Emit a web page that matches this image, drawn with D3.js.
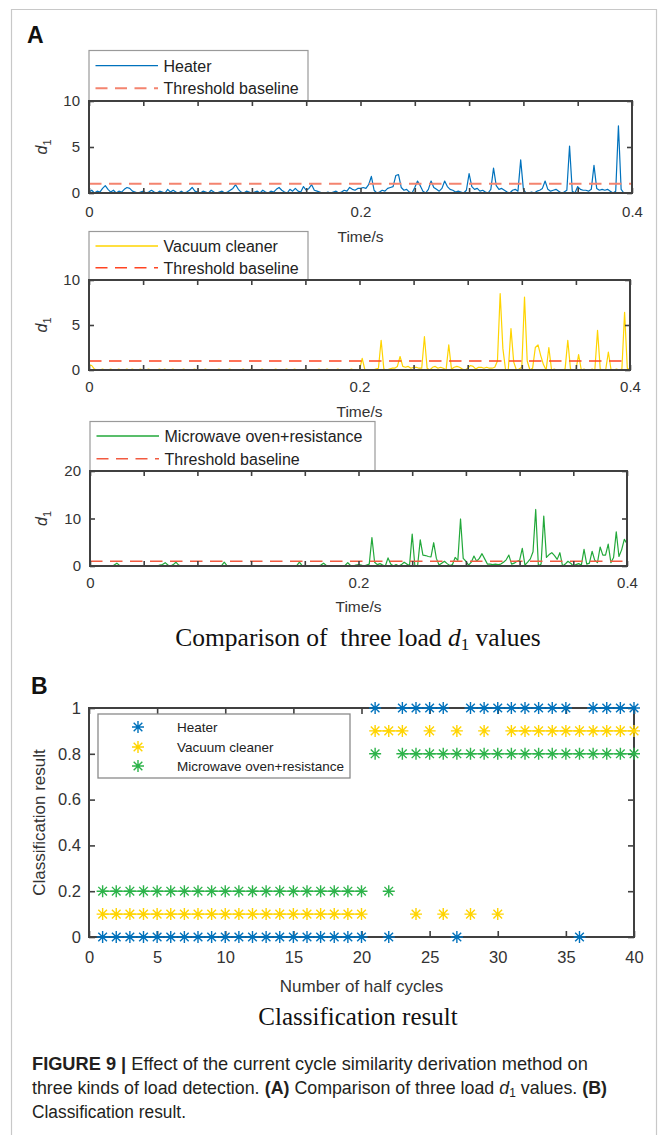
<!DOCTYPE html>
<html><head><meta charset="utf-8">
<script src="https://cdn.jsdelivr.net/npm/d3@7"></script>
<style>body{margin:0;background:#fff}svg{display:block}</style>
</head><body><svg id="c" width="664" height="1135"></svg>
<script>
// ---------------- DATA ----------------
const timeStep = 0.002; // s between samples (201 samples, 0 .. 0.4 s)
const heater = [
0.1,0.3,0.0,0.2,0.1,0.5,0.8,0.4,0.1,0.3,
0.0,0.2,0.1,0.4,0.6,0.5,0.2,0.1,0.0,0.1,
0.2,0.0,0.1,0.3,0.1,0.0,0.2,0.1,0.0,0.4,
0.1,0.3,0.1,0.0,0.2,0.0,0.1,0.3,0.6,0.2,
0.1,0.0,0.2,0.1,0.0,0.3,0.1,0.0,0.1,0.2,
0.0,0.1,0.3,0.5,0.9,0.4,0.1,0.0,0.2,0.1,
0.0,0.1,0.2,0.0,0.3,0.1,0.0,0.2,0.1,0.4,
0.6,0.3,0.1,0.0,0.4,0.2,0.5,0.2,0.1,0.7,
0.3,0.5,0.9,0.3,0.2,0.1,0.0,0.0,0.1,0.0,
0.1,0.2,0.0,0.1,0.3,0.2,0.6,0.4,0.3,0.5,
0.5,0.6,0.5,0.9,1.8,0.3,0.0,0.1,0.3,0.2,
0.5,0.6,0.7,1.9,2.0,0.6,0.3,0.4,0.1,0.0,
0.6,1.3,0.8,0.2,0.0,0.4,1.3,0.6,0.4,0.2,
0.5,1.3,0.7,0.4,0.3,0.1,0.2,0.1,0.0,0.3,
2.1,0.7,0.4,0.5,0.2,0.3,0.1,0.0,0.4,2.7,
0.8,0.4,0.5,0.3,0.1,0.0,0.3,0.4,0.2,3.6,
0.4,0.0,0.0,0.1,0.0,0.2,0.3,0.5,1.3,0.4,
0.2,0.3,0.4,0.2,0.0,0.1,0.3,5.1,0.2,0.0,
0.7,0.4,0.3,0.3,0.2,0.4,3.0,0.5,0.3,0.4,
0.3,0.4,0.2,0.0,0.2,7.3,0.4,0.0,0.0,0.0,
0.0];
const vacuum = [
0.6,0.5,0.1,0.0,0.0,0.1,0.0,0.0,0.1,0.0,
0.0,0.1,0.0,0.0,0.1,0.0,0.1,0.0,0.0,0.1,
0.0,0.0,0.1,0.0,0.0,0.0,0.1,0.0,0.1,0.0,
0.0,0.1,0.0,0.0,0.0,0.1,0.0,0.0,0.0,0.1,
0.0,0.0,0.0,0.1,0.0,0.0,0.0,0.0,0.1,0.0,
0.0,0.0,0.1,0.0,0.0,0.0,0.0,0.1,0.0,0.0,
0.1,0.0,0.0,0.0,0.1,0.0,0.0,0.0,0.0,0.1,
0.0,0.0,0.0,0.1,0.0,0.0,0.1,0.0,0.0,0.0,
0.1,0.0,0.0,0.0,0.0,0.1,0.0,0.0,0.1,0.0,
0.0,0.0,0.1,0.0,0.0,0.0,0.0,0.1,0.0,0.0,
0.0,1.3,0.0,0.0,0.0,0.0,0.1,0.2,3.3,0.1,
0.0,0.1,0.2,0.2,0.4,1.5,0.4,0.3,0.4,0.2,
0.3,0.3,0.2,0.2,3.7,0.2,0.0,0.3,0.4,0.2,
0.3,0.2,0.0,2.8,0.1,0.3,0.4,0.3,0.1,0.0,
0.2,0.5,0.4,0.1,0.3,0.3,0.2,0.3,0.2,0.2,
0.3,1.0,8.5,2.4,0.0,0.0,4.6,0.9,0.0,0.1,
0.3,8.1,1.0,0.0,0.2,2.5,2.8,1.6,0.6,0.0,
2.5,0.0,0.1,0.0,0.0,0.0,0.1,3.3,0.1,0.0,
0.0,1.7,0.0,0.1,0.0,0.0,0.1,0.0,4.4,0.1,
0.0,0.0,2.0,0.0,0.0,0.1,0.0,0.1,6.4,0.2,
0.0];
const microwave = [
0.1,0.0,0.0,0.1,0.0,0.0,0.1,0.0,0.0,0.2,
0.6,0.1,0.0,0.0,0.1,0.0,0.0,0.1,0.0,0.0,
0.1,0.0,0.0,0.1,0.0,0.0,0.2,0.3,0.7,0.2,
0.0,0.3,0.8,0.2,0.0,0.1,0.0,0.0,0.1,0.0,
0.0,0.1,0.0,0.0,0.0,0.1,0.0,0.0,0.0,0.1,
0.8,0.1,0.0,0.0,0.1,0.0,0.0,0.0,0.1,0.0,
0.0,0.0,0.1,0.0,0.0,0.0,0.1,0.0,0.0,0.0,
0.1,0.0,0.0,0.0,0.1,0.0,0.0,0.1,0.8,0.1,
0.0,0.0,0.1,0.0,0.0,0.0,0.2,0.6,0.1,0.0,
0.0,0.1,0.0,0.0,0.0,0.1,0.7,0.1,0.0,0.2,
0.3,0.2,0.0,0.2,0.4,6.0,0.8,0.3,0.5,0.2,
0.0,1.7,0.4,0.0,0.3,0.0,0.3,0.8,0.4,0.1,
6.7,0.0,0.0,5.5,2.3,2.2,2.0,1.9,4.9,1.6,
0.2,0.6,1.0,0.5,0.1,0.3,1.8,1.2,9.9,1.6,
1.0,0.2,0.8,2.1,1.0,1.6,2.6,1.5,0.4,0.4,
0.3,0.4,0.3,0.4,0.8,1.3,2.3,0.4,0.6,1.0,
1.2,3.7,0.2,0.8,1.5,3.0,11.9,0.0,0.4,10.5,
1.8,2.4,2.8,2.2,1.4,2.8,0.0,0.4,1.0,0.6,
0.0,0.3,0.5,0.2,3.5,0.4,0.6,3.1,1.2,0.7,
4.0,2.3,2.3,4.6,0.7,1.8,7.2,2.0,3.4,5.6,
4.7];
const thresholdTimes = [0, 0.4];
const thresholdValues = [1, 1];
const timeTicks = [0,0.04,0.08,0.12,0.16,0.2,0.24,0.28,0.32,0.36,0.4];
const timeTickLabels = {"0":"0","0.2":"0.2","0.4":"0.4"};
const d1TicksSmall = [0,5,10];
const d1TicksLarge = [0,10,20];
const seriesNamesA = ["Heater","Vacuum cleaner","Microwave oven+resistance"];

const halfCycles = [1,2,3,4,5,6,7,8,9,10,11,12,13,14,15,16,17,18,19,20,
                    21,22,23,24,25,26,27,28,29,30,31,32,33,34,35,36,37,38,39,40];
const heaterClass = [0,0,0,0,0,0,0,0,0,0,0,0,0,0,0,0,0,0,0,0,
                     1,0,1,1,1,1,0,1,1,1,1,1,1,1,1,0,1,1,1,1];
const vacuumClass = [0.1,0.1,0.1,0.1,0.1,0.1,0.1,0.1,0.1,0.1,0.1,0.1,0.1,0.1,0.1,0.1,0.1,0.1,0.1,0.1,
                     0.9,0.9,0.9,0.1,0.9,0.1,0.9,0.1,0.9,0.1,0.9,0.9,0.9,0.9,0.9,0.9,0.9,0.9,0.9,0.9];
const microwaveClass = [0.2,0.2,0.2,0.2,0.2,0.2,0.2,0.2,0.2,0.2,0.2,0.2,0.2,0.2,0.2,0.2,0.2,0.2,0.2,0.2,
                        0.8,0.2,0.8,0.8,0.8,0.8,0.8,0.8,0.8,0.8,0.8,0.8,0.8,0.8,0.8,0.8,0.8,0.8,0.8,0.8];
const cycleTicks = [0,5,10,15,20,25,30,35,40];
const classTicks = [0,0.2,0.4,0.6,0.8,1];
const seriesNamesB = ["Heater","Vacuum cleaner","Microwave oven+resistance"];

// ---------------- DRAWING ----------------
const svg = d3.select("#c");
const SANS = "'Liberation Sans', Arial, Helvetica, sans-serif";
const SERIF = "'Liberation Serif', 'Times New Roman', serif";
const AX = "#404040";
const TXT = "#333";

// figure frame
svg.append("path").attr("d","M11.5,1135 V9.5 H656.5 V1135")
  .attr("fill","none").attr("stroke","#c8c8c8").attr("stroke-width",1.2);

svg.append("text").attr("x",27).attr("y",43).attr("font-family",SANS)
  .attr("font-weight","bold").attr("font-size",23).attr("fill","#111").text("A");
svg.append("text").attr("x",31).attr("y",694).attr("font-family",SANS)
  .attr("font-weight","bold").attr("font-size",23).attr("fill","#111").text("B");

const panels = [
  {vals: heater, color:"#0072BD", thr:"#f4846f", thrW:2, x0:89, x1:632, yT:101, yB:193, yMax:10, ticks:d1TicksSmall,
   legTop:50.5, legW:219, legY:[65.7,88.3], xlabPad:13, timeY:241.5, name:seriesNamesA[0]},
  {vals: vacuum, color:"#FFD400", thr:"#ff4422", thrW:1.5, x0:89, x1:630, yT:280, yB:370, yMax:10, ticks:d1TicksSmall,
   legTop:231.5, legW:219, legY:[246,267.7], xlabPad:11, timeY:416.5, name:seriesNamesA[1]},
  {vals: microwave, color:"#22A83A", thr:"#f25a40", thrW:1.5, x0:90, x1:627, yT:471, yB:566, yMax:20, ticks:d1TicksLarge,
   legTop:421.5, legW:285, legY:[436,458.7], xlabPad:11, timeY:612, name:seriesNamesA[2]}
];

panels.forEach(p => {
  const x = d3.scaleLinear().domain([0,0.4]).range([p.x0,p.x1]);
  const y = d3.scaleLinear().domain([0,p.yMax]).range([p.yB,p.yT]);
  const g = svg.append("g");

  // legend box (behind axes)
  g.append("rect").attr("x",p.x0).attr("y",p.legTop).attr("width",p.legW).attr("height",p.yT-p.legTop)
    .attr("fill","#fff").attr("stroke","#9a9a9a").attr("stroke-width",1.2);
  const lx0 = p.x0+6.5, lx1 = p.x0+69, tx = p.x0+74.5;
  g.append("line").attr("x1",lx0).attr("x2",lx1).attr("y1",p.legY[0]).attr("y2",p.legY[0])
    .attr("stroke",p.color).attr("stroke-width",1.3);
  g.append("line").attr("x1",lx0).attr("x2",lx1).attr("y1",p.legY[1]).attr("y2",p.legY[1])
    .attr("stroke",p.thr).attr("stroke-width",p.thrW).attr("stroke-dasharray","12,7.5");
  g.append("text").attr("x",tx).attr("y",p.legY[0]+5.8).attr("font-family",SANS).attr("font-size",16)
    .attr("fill","#222").text(p.name);
  g.append("text").attr("x",tx).attr("y",p.legY[1]+5.8).attr("font-family",SANS).attr("font-size",16)
    .attr("fill","#222").text("Threshold baseline");

  // data
  const line = d3.line().x((d,i)=>x(i*timeStep)).y(d=>y(d));
  g.append("path").datum(p.vals).attr("d",line).attr("fill","none")
    .attr("stroke",p.color).attr("stroke-width",1.2).attr("stroke-linejoin","round");
  const thrLine = d3.line().x((d,i)=>x(thresholdTimes[i])).y(d=>y(d));
  g.append("path").datum(thresholdValues).attr("d",thrLine).attr("fill","none")
    .attr("stroke",p.thr).attr("stroke-width",p.thrW).attr("stroke-dasharray","12.5,7.5");

  // axes
  const fmt = v => { const k = String(+v.toFixed(2)); return timeTickLabels[k] !== undefined ? timeTickLabels[k] : ""; };
  const ax = [
    g.append("g").attr("transform",`translate(0,${p.yB})`).call(d3.axisBottom(x).tickValues(timeTicks).tickSize(-5).tickPadding(p.xlabPad).tickFormat(fmt)),
    g.append("g").attr("transform",`translate(0,${p.yT})`).call(d3.axisTop(x).tickValues(timeTicks).tickSize(-5).tickFormat("")),
    g.append("g").attr("transform",`translate(${p.x0},0)`).call(d3.axisLeft(y).tickValues(p.ticks).tickSize(-5).tickPadding(9).tickFormat(d3.format("d"))),
    g.append("g").attr("transform",`translate(${p.x1},0)`).call(d3.axisRight(y).tickValues(p.ticks).tickSize(-5).tickFormat(""))
  ];
  ax.forEach(a => {
    a.select(".domain").remove();
    a.selectAll("line").attr("stroke",AX).attr("stroke-width",1.6);
    a.selectAll("text").attr("font-family",SANS).attr("font-size",15).attr("fill",TXT);
  });
  g.append("rect").attr("x",p.x0).attr("y",p.yT).attr("width",p.x1-p.x0).attr("height",p.yB-p.yT)
    .attr("fill","none").attr("stroke",AX).attr("stroke-width",2);

  // axis labels
  g.append("text").attr("x",(p.x0+p.x1)/2).attr("y",p.timeY).attr("text-anchor","middle")
    .attr("font-family",SANS).attr("font-size",15.5).attr("fill",TXT).text("Time/s");
  const yl = g.append("text").attr("transform",`translate(47,${(p.yT+p.yB)/2}) rotate(-90)`)
    .attr("text-anchor","middle").attr("font-family",SANS).attr("font-size",16).attr("fill",TXT);
  yl.append("tspan").attr("font-style","italic").text("d");
  yl.append("tspan").attr("font-size",11).attr("dy",4).text("1");
});

// title A
const tA = svg.append("text").attr("x",358).attr("y",646).attr("text-anchor","middle")
  .attr("font-family",SERIF).attr("font-size",25.5).attr("fill","#111");
tA.append("tspan").text("Comparison of\u00a0 three load ");
tA.append("tspan").attr("font-style","italic").text("d");
tA.append("tspan").attr("font-size",17).attr("dy",4).text("1");
tA.append("tspan").attr("dy",-4).text(" values");

// ---------------- PANEL B ----------------
{
  const x0=89, x1=634, yT=708, yB=937;
  const x = d3.scaleLinear().domain([0,40]).range([x0,x1]);
  const y = d3.scaleLinear().domain([0,1]).range([yB,yT]);
  const g = svg.append("g");
  const ax = [
    g.append("g").attr("transform",`translate(0,${yB})`).call(d3.axisBottom(x).tickValues(cycleTicks).tickSize(-6).tickPadding(14).tickFormat(d3.format("d"))),
    g.append("g").attr("transform",`translate(0,${yT})`).call(d3.axisTop(x).tickValues(cycleTicks).tickSize(-6).tickFormat("")),
    g.append("g").attr("transform",`translate(${x0},0)`).call(d3.axisLeft(y).tickValues(classTicks).tickSize(-6).tickPadding(8).tickFormat(d => d===0||d===1 ? String(d) : d.toFixed(1))),
    g.append("g").attr("transform",`translate(${x1},0)`).call(d3.axisRight(y).tickValues(classTicks).tickSize(-6).tickFormat(""))
  ];
  ax.forEach(a => {
    a.select(".domain").remove();
    a.selectAll("line").attr("stroke",AX).attr("stroke-width",1.6);
    a.selectAll("text").attr("font-family",SANS).attr("font-size",16.5).attr("fill",TXT);
  });
  g.append("rect").attr("x",x0).attr("y",yT).attr("width",x1-x0).attr("height",yB-yT)
    .attr("fill","none").attr("stroke",AX).attr("stroke-width",2);

  g.append("text").attr("x",(x0+x1)/2).attr("y",992).attr("text-anchor","middle")
    .attr("font-family",SANS).attr("font-size",17).attr("fill",TXT).text("Number of half cycles");
  g.append("text").attr("transform",`translate(45,${(yT+yB)/2}) rotate(-90)`).attr("text-anchor","middle")
    .attr("font-family",SANS).attr("font-size",17).attr("fill",TXT).text("Classification result");

  const star = (s) => {
    const d = s*0.72;
    return `M${-s},0H${s}M0,${-s}V${s}M${-d},${-d}L${d},${d}M${-d},${d}L${d},${-d}`;
  };
  const seriesB = [
    {vals: heaterClass, color:"#0072BD"},
    {vals: vacuumClass, color:"#FFD400"},
    {vals: microwaveClass, color:"#2DB34A"}
  ];
  seriesB.forEach(s => {
    const segs = [];
    for (let i=1;i<halfCycles.length;i++){
      if (s.vals[i]===s.vals[i-1] && halfCycles[i]-halfCycles[i-1]===1) segs.push([i-1,i]);
    }
    g.selectAll(null).data(segs).enter().append("line")
      .attr("x1",d=>x(halfCycles[d[0]])).attr("x2",d=>x(halfCycles[d[1]]))
      .attr("y1",d=>y(s.vals[d[0]])).attr("y2",d=>y(s.vals[d[1]]))
      .attr("stroke",s.color).attr("stroke-width",1.3);
    g.selectAll(null).data(halfCycles).enter().append("path")
      .attr("transform",(d,i)=>`translate(${x(d)},${y(s.vals[i])})`)
      .attr("d",star(6)).attr("fill","none").attr("stroke",s.color).attr("stroke-width",1.4);
  });

  // legend B
  g.append("rect").attr("x",98).attr("y",714).attr("width",252).attr("height",64)
    .attr("fill","#fff").attr("stroke","#8a8a8a").attr("stroke-width",1.3);
  const ly = [727,747,766];
  seriesB.forEach((s,i) => {
    g.append("path").attr("transform",`translate(138,${ly[i]})`).attr("d",star(6))
      .attr("fill","none").attr("stroke",s.color).attr("stroke-width",1.4);
    g.append("text").attr("x",177).attr("y",ly[i]+5).attr("font-family",SANS).attr("font-size",13.5)
      .attr("fill","#222").text(seriesNamesB[i]);
  });
}

svg.append("text").attr("x",358).attr("y",1025).attr("text-anchor","middle")
  .attr("font-family",SERIF).attr("font-size",25).attr("fill","#111").text("Classification result");

// caption: each line built from measured runs, then squeezed horizontally to the target width
const CAP = "'Liberation Sans Narrow', 'Arial Narrow', 'Liberation Sans', Arial, sans-serif";
function captionLine(y, width, runs){
  const g = svg.append("g");
  let cx = 0;
  runs.forEach(r => {
    const t = g.append("text").attr("x",cx).attr("y",r.sub ? 3 : 0).attr("font-family",CAP)
      .attr("font-size",r.sub ? 12 : 18).attr("fill","#231f20")
      .attr("font-weight",r.bold ? "bold" : "normal").attr("font-style",r.it ? "italic" : "normal")
      .attr("xml:space","preserve").style("white-space","pre").text(r.t);
    cx += t.node().getComputedTextLength();
  });
  g.attr("transform",`translate(32,${y}) scale(${width/cx},1)`);
}
captionLine(1070, 556, [{t:"FIGURE 9 | ",bold:true},{t:"Effect of the current cycle similarity derivation method on"}]);
captionLine(1094, 575, [{t:"three kinds of load detection. "},{t:"(A)",bold:true},{t:" Comparison of three load "},
  {t:"d",it:true},{t:"1",sub:true},{t:" values. "},{t:"(B)",bold:true}]);
captionLine(1118, 154, [{t:"Classification result."}]);
</script>
</body></html>
